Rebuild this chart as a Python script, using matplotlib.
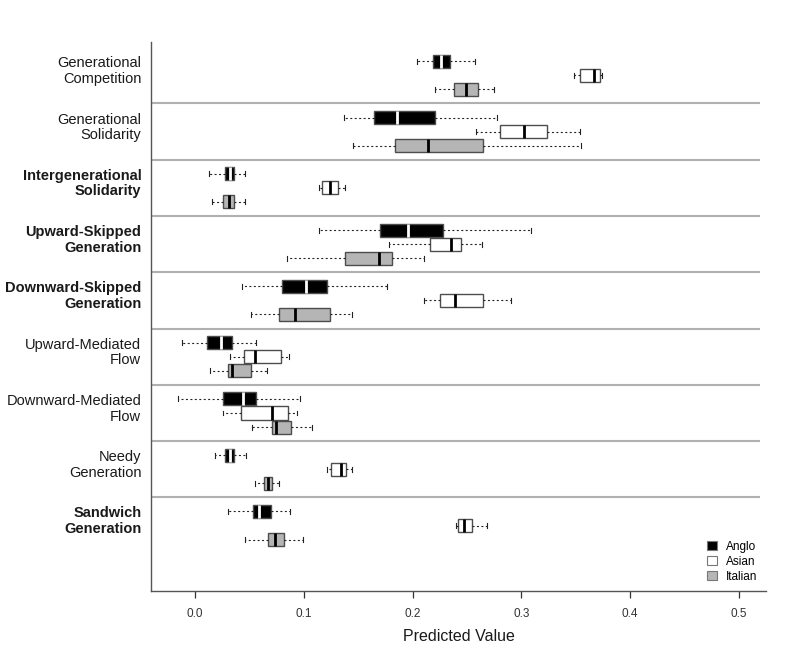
import matplotlib
matplotlib.use('Agg')
import matplotlib.pyplot as plt
from matplotlib.patches import Patch

plt.rcParams['font.family'] = ['Liberation Sans', 'DejaVu Sans']

categories = ['Generational\nCompetition', 'Generational\nSolidarity',
              'Intergenerational\nSolidarity', 'Upward-Skipped\nGeneration',
              'Downward-Skipped\nGeneration', 'Upward-Mediated\nFlow',
              'Downward-Mediated\nFlow', 'Needy\nGeneration', 'Sandwich\nGeneration']
bold_categories = [False, False, True, True, True, False, False, False, True]
groups = ['Anglo', 'Asian', 'Italian']

# per category: (whisker low, q1, median, q3, whisker high)
anglo = [
    (0.204, 0.219, 0.226, 0.234, 0.257),
    (0.137, 0.164, 0.186, 0.221, 0.278),
    (0.013, 0.027, 0.032, 0.036, 0.046),
    (0.114, 0.170, 0.196, 0.228, 0.309),
    (0.043, 0.080, 0.102, 0.121, 0.176),
    (-0.012, 0.011, 0.024, 0.034, 0.056),
    (-0.016, 0.026, 0.044, 0.056, 0.096),
    (0.018, 0.027, 0.032, 0.036, 0.047),
    (0.030, 0.053, 0.059, 0.070, 0.087),
]
asian = [
    (0.348, 0.354, 0.367, 0.372, 0.374),
    (0.258, 0.280, 0.302, 0.324, 0.354),
    (0.114, 0.117, 0.124, 0.131, 0.138),
    (0.178, 0.216, 0.235, 0.244, 0.264),
    (0.210, 0.225, 0.239, 0.265, 0.290),
    (0.032, 0.045, 0.055, 0.079, 0.086),
    (0.026, 0.042, 0.071, 0.085, 0.094),
    (0.121, 0.125, 0.134, 0.139, 0.144),
    (0.240, 0.242, 0.247, 0.255, 0.268),
]
italian = [
    (0.221, 0.238, 0.249, 0.260, 0.275),
    (0.145, 0.184, 0.214, 0.265, 0.355),
    (0.015, 0.026, 0.031, 0.036, 0.046),
    (0.084, 0.138, 0.169, 0.181, 0.210),
    (0.051, 0.077, 0.092, 0.124, 0.144),
    (0.014, 0.030, 0.034, 0.051, 0.066),
    (0.052, 0.071, 0.074, 0.088, 0.107),
    (0.055, 0.063, 0.067, 0.071, 0.077),
    (0.046, 0.067, 0.073, 0.082, 0.099),
]
series = [anglo, asian, italian]

face_colors = ['black', 'white', '#b5b5b5']
median_colors = ['white', 'black', 'black']
edge_color = '#4d4d4d'

fig = plt.figure(figsize=(8, 6.62), dpi=100)
ax = fig.add_axes([0.189, 0.1073, 0.7685, 0.8293])

for g, data in enumerate(series):
    stats = []
    for lo, q1, med, q3, hi in data:
        stats.append({'whislo': lo, 'q1': q1, 'med': med, 'q3': q3, 'whishi': hi})
    positions = [4 * i + g + 1 for i in range(len(categories))]
    ax.bxp(stats, positions=positions, orientation='horizontal', widths=0.93,
           capwidths=0.35, showfliers=False, patch_artist=True,
           boxprops=dict(facecolor=face_colors[g], edgecolor=edge_color, linewidth=1.0),
           medianprops=dict(color=median_colors[g], linewidth=2.0, solid_capstyle='butt'),
           whiskerprops=dict(color='#222222', linewidth=0.8, linestyle=(0, (1.8, 2.2))),
           capprops=dict(color='#222222', linewidth=0.8),
           manage_ticks=False)

xmin, xmax = -0.0405, 0.525
ax.set_xlim(xmin, xmax)
ax.set_ylim(38.65, -0.37)

# separators between categories
for i in range(1, len(categories)):
    ax.hlines(4 * i, xmin, 0.5195, color='#b0b0b0', linewidth=1.5, zorder=0)

for i, (label, bold) in enumerate(zip(categories, bold_categories)):
    ax.text(-0.016, 4 * i + 1.7, label, transform=ax.get_yaxis_transform(),
            ha='right', va='center', multialignment='right', fontsize=10.5,
            linespacing=1.15, fontweight='bold' if bold else 'normal', color='#1a1a1a')

ax.set_yticks([])
ax.set_xticks([0.0, 0.1, 0.2, 0.3, 0.4, 0.5])
ax.set_xticklabels(['0.0', '0.1', '0.2', '0.3', '0.4', '0.5'])
ax.tick_params(axis='x', length=5, width=0.9, pad=7, labelsize=8.5, colors='#333333')
ax.set_xlabel('Predicted Value', fontsize=11.5, labelpad=7, color='#1a1a1a')

for side in ['top', 'right']:
    ax.spines[side].set_visible(False)
for side in ['left', 'bottom']:
    ax.spines[side].set_color('#555555')
    ax.spines[side].set_linewidth(1.0)

handles = [Patch(facecolor=c, edgecolor='#777777', linewidth=0.8) for c in face_colors]
ax.legend(handles, groups, loc='lower right', bbox_to_anchor=(1.0, 0.0),
          frameon=False, fontsize=8.5, handlelength=0.8, handleheight=0.8,
          handletextpad=0.8, labelspacing=0.25, borderaxespad=0.3)

fig.savefig('out.png', dpi=100)
